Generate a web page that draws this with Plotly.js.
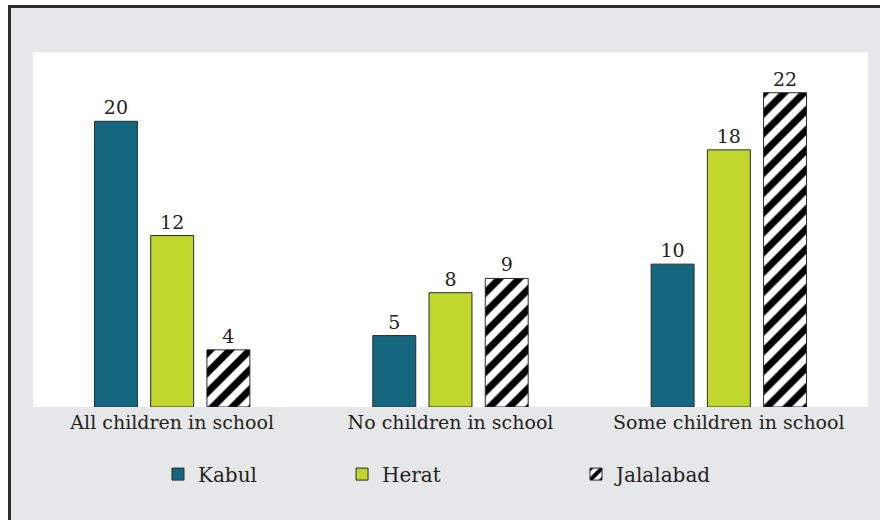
<!DOCTYPE html>
<html>
<head>
<meta charset="utf-8">
<script src="https://cdn.plot.ly/plotly-3.0.1.min.js"></script>
<style>
html,body{margin:0;padding:0;background:#ffffff;width:880px;height:520px;overflow:hidden;}
#frame{position:absolute;left:8px;top:5px;width:869px;height:520px;border-left:3px solid #2b2b2b;border-top:3px solid #2b2b2b;border-right:3px solid #2b2b2b;background:#e6e7e8;}
#chart{position:absolute;left:0;top:0;width:869px;height:512px;}
</style>
</head>
<body>
<div id="frame"><div id="chart"></div></div>
<script>
const categories = ["All children in school", "No children in school", "Some children in school"];
const kabul = [20, 5, 10];
const herat = [12, 8, 18];
const jalalabad = [4, 9, 22];

const FONT = "DejaVu Serif, Liberation Serif, serif";
const TXT = "#231f20";

function bar(name, vals, color, legend, pattern) {
  const t = {
    type: "bar", name: name, x: categories, y: vals,
    text: vals.map(String), textposition: "outside", cliponaxis: false,
    textfont: {family: FONT, size: 19, color: TXT},
    marker: {color: color, line: {color: "#2b2b2b", width: 1}},
    legend: legend, hoverinfo: "skip"
  };
  if (pattern) t.marker.pattern = {shape: "/", bgcolor: "#ffffff", fgcolor: "#000000",
    fgopacity: 1, size: 14, solidity: 0.5, fillmode: "replace"};
  return t;
}

const data = [
  bar("Kabul", kabul, "#15667f", "legend"),
  bar("Herat", herat, "#c1d72e", "legend2"),
  bar("Jalalabad", jalalabad, "#ffffff", "legend3", true)
];

const legBase = {orientation: "h", yanchor: "middle", y: -0.189, xanchor: "left",
  bgcolor: "rgba(0,0,0,0)", font: {family: FONT, size: 20, color: TXT}};

const layout = {
  width: 869, height: 512,
  margin: {l: 22, r: 12, t: 44, b: 113},
  paper_bgcolor: "#e6e7e8", plot_bgcolor: "#ffffff",
  barmode: "group", bargap: 0.394, bargroupgap: 0.236,
  font: {family: FONT, color: TXT},
  xaxis: {showgrid: false, showline: false, zeroline: false, ticks: "",
    tickfont: {family: FONT, size: 19, color: TXT}, ticklabelstandoff: 2, fixedrange: true},
  yaxis: {range: [0, 24.85], showgrid: false, zeroline: false, showline: false,
    showticklabels: false, ticks: "", fixedrange: true},
  showlegend: true,
  legend: Object.assign({}, legBase, {x: 0.1497}),
  legend2: Object.assign({}, legBase, {x: 0.3701}),
  legend3: Object.assign({}, legBase, {x: 0.6503})
};

Plotly.newPlot("chart", data, layout, {displayModeBar: false, staticPlot: true});
</script>
</body>
</html>
